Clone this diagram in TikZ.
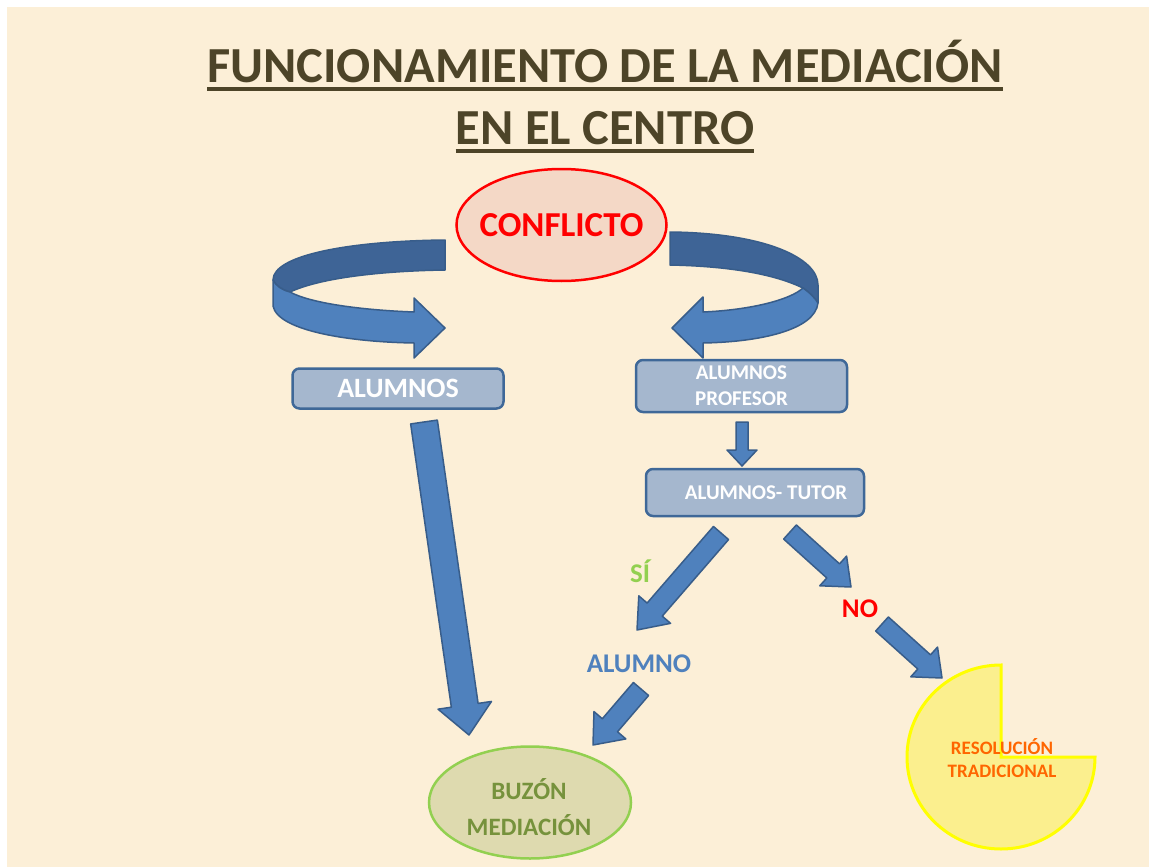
\documentclass[tikz,border=0pt]{standalone}
\usepackage{fontspec}
\setmainfont{Carlito}
\usetikzlibrary{calc,shapes.geometric}
\definecolor{bg}{HTML}{FCEFD7}
\definecolor{titlec}{HTML}{4D4428}
\definecolor{arrfill}{HTML}{4F81BD}
\definecolor{arrdark}{HTML}{3E6496}
\definecolor{arrline}{HTML}{385D8A}
\definecolor{boxfill}{HTML}{A5B7CE}
\definecolor{boxline}{HTML}{3F6898}
\definecolor{confill}{HTML}{F4D8C6}
\definecolor{buzfill}{HTML}{DEDAAF}
\definecolor{buzline}{HTML}{92D050}
\definecolor{buztext}{HTML}{76923C}
\definecolor{piefill}{HTML}{FBEF8E}
\definecolor{pieline}{HTML}{FFFF00}
\definecolor{pietext}{HTML}{FF6600}
\definecolor{sigreen}{HTML}{92D050}
\newcommand\blkarrow[5]{%
  \coordinate (blkh) at ($(#2)!#5!(#1)$);
  \path[blockarrow] ($(#1)!#3!90:(#2)$) -- ($(blkh)!#3!-90:(#1)$) -- ($(blkh)!#4!-90:(#1)$) -- (#2)
     -- ($(blkh)!#4!90:(#1)$) -- ($(blkh)!#3!90:(#1)$) -- ($(#1)!#3!-90:(#2)$) -- cycle;}
\tikzset{
  blockarrow/.style={fill=arrfill, draw=arrline, line width=1.5pt, line join=round},
  bandlight/.style={fill=arrfill, draw=arrline, line width=1.5pt, line join=round},
  banddark/.style={fill=arrdark, draw=arrline, line width=1.5pt, line join=round},
  stepbox/.style={draw=boxline, fill=boxfill, line width=2.5pt, rounded corners=7pt, text=white,
     font=\bfseries\fontsize{21}{26}\selectfont, align=center, inner sep=0pt},
  titletext/.style={text=titlec, font=\bfseries\fontsize{50.5}{60}\selectfont, inner sep=0pt, anchor=base},
  lbl/.style={font=\bfseries\fontsize{27}{32}\selectfont, inner sep=0pt}
}
\begin{document}
\begin{tikzpicture}[x=1pt,y=-1pt]
\useasboundingbox (0,0) rectangle (1149,867);
\fill[white] (0,0) rectangle (1149,867);
\fill[bg] (7,7) rectangle (1149,867);

% title
\node[titletext] (t1) at (605,82) {FUNCIONAMIENTO DE LA MEDIACIÓN};
\node[titletext] (t2) at (605,144) {EN EL CENTRO};
\draw[titlec, line width=4pt] ([yshift=-7pt]t1.base west) -- ([yshift=-7pt]t1.base east);
\draw[titlec, line width=4pt] ([yshift=-7pt]t2.base west) -- ([yshift=-7pt]t2.base east);

% conflicto
\node[ellipse, draw=red, fill=confill, line width=2.5pt, minimum width=210pt, minimum height=112pt,
  inner sep=0pt] (conf) at (561.5,225) {};
\node[text=red, font=\bfseries\fontsize{35}{40}\selectfont, inner sep=0pt] (conft) at (conf.center) {CONFLICTO};

% left curved arrow
\path[banddark] (445,240) .. controls (350,241) and (273,255) .. (273,280)
   .. controls (276,286) and (282,290) .. (290,292)
   .. controls (320,278) and (380,271) .. (445,270) -- cycle;
\path[bandlight] (273,280) -- (273,306) .. controls (278,331) and (350,342) .. (414,343)
   -- (414,358) -- (445,328) -- (414,298) -- (414,312)
   .. controls (360,310) and (310,303) .. (290,292)
   .. controls (282,290) and (276,286) .. (273,280) -- cycle;

% right curved arrow
\path[banddark] (670,232) .. controls (765,233) and (818,258) .. (818,285) -- (818,303)
   .. controls (815,298) and (810,293) .. (803,288)
   .. controls (770,272) and (720,266) .. (670,265) -- cycle;
\path[bandlight] (818,303) .. controls (815,330) and (760,342) .. (703,343)
   -- (703,358) -- (672,328) -- (703,297) -- (703,312)
   .. controls (750,310) and (790,300) .. (803,288)
   .. controls (810,293) and (815,298) .. (818,303) -- cycle;

% boxes
\node[stepbox, minimum width=211pt, minimum height=40pt, font=\bfseries\fontsize{28}{32}\selectfont] (alu) at (398,388.5) {ALUMNOS};
\node[stepbox, minimum width=211pt, minimum height=52pt] (prof) at (741.5,386) {ALUMNOS\\PROFESOR};
\node[stepbox, minimum width=218pt, minimum height=47pt] (tutor) at (755,492.5) {\hspace*{22pt}ALUMNOS- TUTOR};

% labels
\node[lbl, text=sigreen] (si) at (640,571) {SÍ};
\node[lbl, text=red] (no) at (860,609) {NO};
\node[lbl, text=arrfill] (alumno) at (639,664) {ALUMNO};

% buzon
\node[ellipse, draw=buzline, fill=buzfill, line width=2.5pt, minimum width=202pt, minimum height=112pt,
  inner sep=0pt] (buz) at (530,802.5) {};
\node[text=buztext, font=\bfseries\fontsize{25}{36}\selectfont, align=center, inner sep=0pt] (buzt) at (529,807) {BUZÓN\\MEDIACIÓN};

% pie
\draw[fill=piefill, draw=pieline, line width=3pt] (1001,757) -- (1095,757)
   arc[start angle=0, end angle=270, x radius=94, y radius=92] -- cycle;
\node[text=pietext, font=\bfseries\fontsize{19}{23}\selectfont, align=center, inner sep=0pt] (res) at (1002,758) {RESOLUCIÓN\\TRADICIONAL};

% block arrows
\coordinate (a1s) at (424,422); \coordinate (a1e) at (469,735);
\blkarrow{a1s}{a1e}{13.5pt}{27pt}{30pt}
\coordinate (a2s) at (742,422); \coordinate (a2e) at (742,466);
\blkarrow{a2s}{a2e}{6pt}{15pt}{16pt}
\coordinate (a3s) at (721,533); \coordinate (a3e) at (637,630);
\blkarrow{a3s}{a3e}{10pt}{21pt}{27pt}
\coordinate (a4s) at (790,532); \coordinate (a4e) at (851,587);
\blkarrow{a4s}{a4e}{9.5pt}{20pt}{24pt}
\coordinate (a5s) at (882,624); \coordinate (a5e) at (942,678);
\blkarrow{a5s}{a5e}{9.5pt}{20pt}{24pt}
\coordinate (a6s) at (641,689); \coordinate (a6e) at (593,745);
\blkarrow{a6s}{a6e}{10pt}{21pt}{26pt}
\end{tikzpicture}
\end{document}
